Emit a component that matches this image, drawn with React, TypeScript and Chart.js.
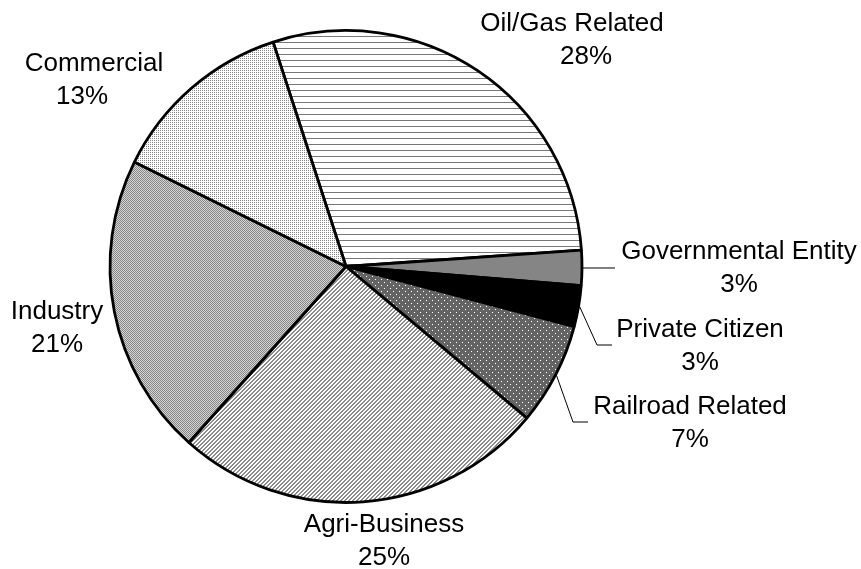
import React, { useEffect, useRef } from "react";
import { Chart, registerables } from "chart.js";

Chart.register(...registerables);

// ---- Data ----
const categories = [
  "Oil/Gas Related",
  "Governmental Entity",
  "Private Citizen",
  "Railroad Related",
  "Agri-Business",
  "Industry",
  "Commercial",
];
const shares = [28.9, 2.4, 2.8, 7.0, 25.5, 20.7, 12.7];
const percentLabels = ["28%", "3%", "3%", "7%", "25%", "21%", "13%"];

// ---- Layout (label placement, not data) ----
type LabelLayout = { x: number; y: number; x2?: number; leader?: { elbowX?: number; elbowY?: number; endX: number } };
const labelLayout: LabelLayout[] = [
  { x: 572, y: 31, x2: 586 },
  { x: 739, y: 259, leader: { endX: 615 } },
  { x: 700, y: 337, leader: { elbowX: 597, elbowY: 345, endX: 612 } },
  { x: 690, y: 414, leader: { elbowX: 573, elbowY: 422, endX: 588 } },
  { x: 384, y: 532 },
  { x: 57, y: 319 },
  { x: 94, y: 71, x2: 82 },
];

function tile(w: number, h: number, draw: (c: CanvasRenderingContext2D) => void): CanvasPattern | string {
  const cv = document.createElement("canvas");
  cv.width = w;
  cv.height = h;
  const c = cv.getContext("2d")!;
  draw(c);
  const p = c.createPattern(cv, "repeat");
  return p || "#999";
}

function makeFills(): (CanvasPattern | string)[] {
  const hlines = tile(6, 6, (c) => {
    c.fillStyle = "#ffffff";
    c.fillRect(0, 0, 6, 6);
    c.fillStyle = "#777777";
    c.fillRect(0, 0, 6, 1);
  });
  const dotsDark = tile(6, 6, (c) => {
    c.fillStyle = "#6e6e6e";
    c.fillRect(0, 0, 6, 6);
    c.fillStyle = "#5a5a5a";
    for (let y = 0; y < 6; y++) for (let x = 0; x < 6; x++) if ((x + y) % 2 === 0) c.fillRect(x, y, 1, 1);
    c.fillStyle = "#ffffff";
    c.fillRect(0, 0, 1, 1);
    c.fillRect(3, 3, 1, 1);
  });
  const diag = tile(4, 4, (c) => {
    c.fillStyle = "#ffffff";
    c.fillRect(0, 0, 4, 4);
    c.fillStyle = "#8c8c8c";
    for (let y = 0; y < 4; y++) for (let x = 0; x < 4; x++) if ((x + y) % 4 === 0 || (x + y) % 4 === 1) c.fillRect(x, y, 1, 1);
  });
  const checker = tile(2, 2, (c) => {
    c.fillStyle = "#d6d6d6";
    c.fillRect(0, 0, 2, 2);
    c.fillStyle = "#868686";
    c.fillRect(0, 0, 1, 1);
    c.fillRect(1, 1, 1, 1);
  });
  const fineDots = tile(2, 2, (c) => {
    c.fillStyle = "#ffffff";
    c.fillRect(0, 0, 2, 2);
    c.fillStyle = "#858585";
    c.fillRect(0, 0, 1, 1);
  });
  return [hlines, "#858585", "#000000", dotsDark, diag, checker, fineDots];
}

const labelPlugin = {
  id: "pieLabels",
  afterDraw(chart: any) {
    const ctx: CanvasRenderingContext2D = chart.ctx;
    const meta = chart.getDatasetMeta(0);
    ctx.save();
    ctx.fillStyle = "#000";
    ctx.font = '26px "Liberation Sans", Arial, sans-serif';
    ctx.textAlign = "center";
    ctx.textBaseline = "alphabetic";
    meta.data.forEach((arc: any, i: number) => {
      const lay = labelLayout[i];
      ctx.fillText(categories[i], lay.x, lay.y);
      ctx.fillText(percentLabels[i], lay.x2 ?? lay.x, lay.y + 33);
      if (lay.leader) {
        const { x, y, startAngle, endAngle, outerRadius } = arc.getProps(
          ["x", "y", "startAngle", "endAngle", "outerRadius"],
          true
        );
        const mid = (startAngle + endAngle) / 2;
        const r = outerRadius + 1;
        const sx = x + Math.cos(mid) * r;
        const sy = y + Math.sin(mid) * r;
        ctx.beginPath();
        ctx.strokeStyle = "#000";
        ctx.lineWidth = 1;
        ctx.moveTo(sx, sy);
        if (lay.leader.elbowX !== undefined && lay.leader.elbowY !== undefined) {
          ctx.lineTo(lay.leader.elbowX, lay.leader.elbowY);
          ctx.lineTo(lay.leader.endX, lay.leader.elbowY);
        } else {
          ctx.lineTo(lay.leader.endX, sy);
        }
        ctx.stroke();
      }
    });
    ctx.restore();
  },
};

export default function App() {
  const ref = useRef<HTMLCanvasElement | null>(null);
  useEffect(() => {
    if (!ref.current) return;
    const chart = new Chart(ref.current, {
      type: "pie",
      data: {
        labels: categories,
        datasets: [
          {
            data: shares,
            backgroundColor: makeFills() as any,
            borderColor: "#000000",
            borderWidth: 2.8,
          },
        ],
      },
      options: {
        responsive: false,
        animation: false,
        events: [],
        rotation: -18,
        radius: 236,
        layout: { padding: { left: 110, right: 279, top: 31, bottom: 67 } },
        plugins: {
          legend: { display: false },
          tooltip: { enabled: false },
        },
      },
      plugins: [labelPlugin],
    });
    return () => chart.destroy();
  }, []);
  return (
    <div style={{ position: "fixed", left: 0, top: 0, width: 861, height: 569, background: "#fff" }}>
      <canvas ref={ref} width={861} height={569} style={{ width: 861, height: 569 }} />
    </div>
  );
}
